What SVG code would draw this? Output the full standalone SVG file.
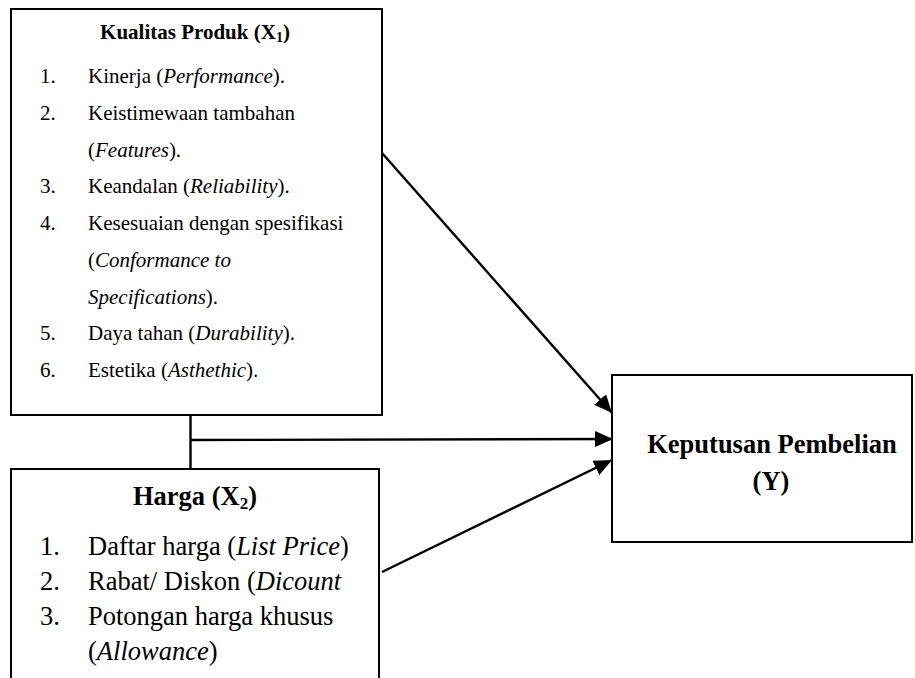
<svg xmlns="http://www.w3.org/2000/svg" width="915" height="678" viewBox="0 0 915 678">
<style>
.box{fill:#fff;stroke:#000;stroke-width:2}
.t{font-family:"Liberation Serif","Times New Roman",serif;fill:#000}
.k{font-size:21px}
.h{font-size:26.5px}
.b{font-weight:bold}
.c{text-anchor:middle}
.i{font-style:italic}
.ln{stroke:#000;stroke-width:2.4;fill:none}
</style>
<defs>
<marker id="ah" markerUnits="userSpaceOnUse" markerWidth="18" markerHeight="16" viewBox="0 0 18 16" refX="18" refY="8" orient="auto">
<path d="M0,0 L18,8 L0,16 z" fill="#000"/>
</marker>
</defs>
<rect width="915" height="678" fill="#fff"/>
<g id="connectors">
<line class="ln" x1="190.5" y1="415" x2="190.5" y2="469"/>
<line class="ln" x1="190.5" y1="440" x2="613" y2="439" marker-end="url(#ah)"/>
<line class="ln" x1="382" y1="153" x2="612" y2="413" marker-end="url(#ah)"/>
<line class="ln" x1="382" y1="572" x2="612" y2="460" marker-end="url(#ah)"/>
</g>
<g id="kualitas">
<rect class="box" x="11" y="9" width="371" height="406"/>
<text class="t k b c" x="195" y="39">Kualitas Produk (X<tspan font-size="14" dy="3">1</tspan><tspan dy="-3">)</tspan></text>
<text class="t k" x="40" y="83">1.</text><text class="t k" x="88" y="83">Kinerja (<tspan class="i">Performance</tspan>).</text>
<text class="t k" x="40" y="120">2.</text><text class="t k" x="88" y="120">Keistimewaan tambahan</text>
<text class="t k" x="88" y="156.5">(<tspan class="i">Features</tspan>).</text>
<text class="t k" x="40" y="193">3.</text><text class="t k" x="88" y="193">Keandalan (<tspan class="i">Reliability</tspan>).</text>
<text class="t k" x="40" y="230">4.</text><text class="t k" x="88" y="230">Kesesuaian dengan spesifikasi</text>
<text class="t k" x="88" y="267">(<tspan class="i">Conformance to</tspan></text>
<text class="t k" x="88" y="303.5"><tspan class="i">Specifications</tspan>).</text>
<text class="t k" x="40" y="340">5.</text><text class="t k" x="88" y="340">Daya tahan (<tspan class="i">Durability</tspan>).</text>
<text class="t k" x="40" y="377">6.</text><text class="t k" x="88" y="377">Estetika (<tspan class="i">Asthethic</tspan>).</text>
</g>
<g id="harga">
<rect class="box" x="11" y="469" width="368" height="230"/>
<text class="t h b c" x="195" y="505">Harga (X<tspan font-size="17" dy="4">2</tspan><tspan dy="-4">)</tspan></text>
<text class="t h" x="40" y="555">1.</text><text class="t h" x="88" y="555">Daftar harga (<tspan class="i">List Price</tspan>)</text>
<text class="t h" x="40" y="590">2.</text><text class="t h" x="88" y="590">Rabat/ Diskon (<tspan class="i">Dicount</tspan></text>
<text class="t h" x="40" y="625">3.</text><text class="t h" x="88" y="625">Potongan harga khusus</text>
<text class="t h" x="88" y="660">(<tspan class="i">Allowance</tspan>)</text>
</g>
<g id="keputusan">
<rect class="box" x="612" y="375" width="300" height="167"/>
<text class="t h b c" x="772" y="453">Keputusan Pembelian</text>
<text class="t h b c" x="771" y="490">(Y)</text>
</g>
</svg>
